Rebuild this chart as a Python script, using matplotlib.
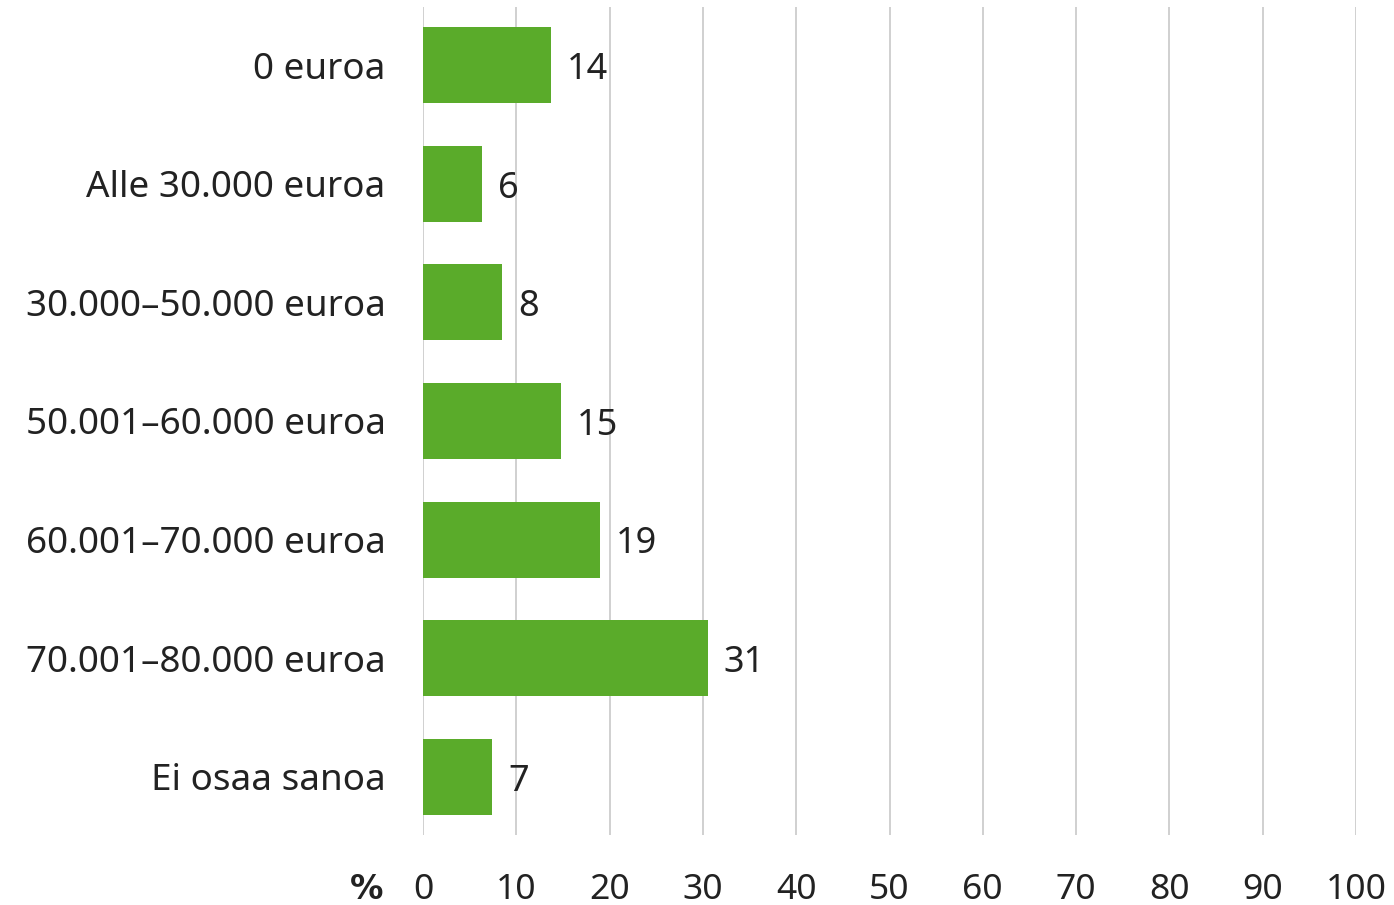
import matplotlib
matplotlib.use("Agg")
import matplotlib.pyplot as plt

categories = ["0 euroa", "Alle 30.000 euroa", "30.000\u201350.000 euroa",
              "50.001\u201360.000 euroa", "60.001\u201370.000 euroa",
              "70.001\u201380.000 euroa", "Ei osaa sanoa"]
values = [13.7, 6.3, 8.5, 14.8, 19.0, 30.5, 7.4]
value_labels = ["14", "6", "8", "15", "19", "31", "7"]
xticks = [0, 10, 20, 30, 40, 50, 60, 70, 80, 90, 100]

plt.rcParams['font.family'] = ['Noto Sans', 'DejaVu Sans']
text_color = "#222222"
bar_color = "#5aab2a"
grid_color = "#c8c8c8"

fig = plt.figure(figsize=(13.94, 9.05), dpi=100)
ax = fig.add_axes([423/1394, 1 - 835/905, (1356 - 423)/1394, (835 - 7)/905])

y = list(range(len(categories)))
ax.barh(y, values, height=0.64, color=bar_color, zorder=3)
for yi, v, lab in zip(y, values, value_labels):
    ax.annotate(lab, (v, yi), xytext=(11.5, -3.5), textcoords="offset points",
                va="center", ha="left", fontsize=26, color=text_color)

ax.set_xlim(0, 100)
ax.set_ylim(len(categories) - 0.51, -0.49)
ax.set_xticks(xticks)
ax.set_xticklabels([str(t) for t in xticks], fontsize=25.5, color=text_color)
ax.set_yticks(y)
ax.set_yticklabels(categories, fontsize=26.5, color=text_color)
ax.tick_params(axis="both", length=0)
ax.tick_params(axis="y", pad=27)
ax.tick_params(axis="x", pad=27)
ax.grid(axis="x", color=grid_color, linewidth=1.2, zorder=0)
for s in ax.spines.values():
    s.set_visible(False)

ax.text(-0.061, -0.066, "%", transform=ax.transAxes, ha="center", va="center",
        fontsize=24, fontweight="bold", family="DejaVu Sans", color=text_color)

fig.savefig("out.png", dpi=100)
